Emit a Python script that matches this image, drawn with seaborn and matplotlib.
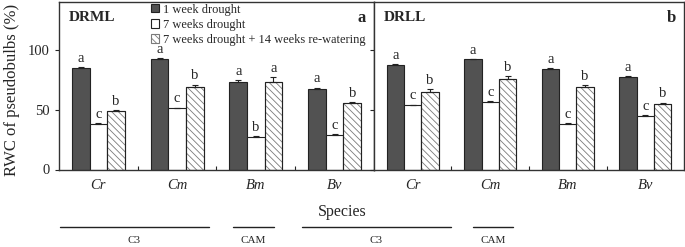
import numpy as np
import pandas as pd
import matplotlib as mpl
mpl.use('Agg')
import matplotlib.pyplot as plt
from matplotlib.patches import Rectangle
import seaborn as sns

species = ['Cr', 'Cm', 'Bm', 'Bv']
treatments = ['1 week drought', '7 weeks drought',
              '7 weeks drought + 14 weeks re-watering']

# DRML (panel a)
drml_1w = [85.0, 92.0, 73.5, 67.5]
drml_7w = [38.0, 51.0, 27.0, 28.5]
drml_rw = [48.5, 69.0, 73.5, 56.0]
drml_1w_err = [0.8, 0.8, 1.0, 1.0]
drml_7w_err = [0.8, 0.8, 0.8, 0.8]
drml_rw_err = [1.5, 2.0, 4.0, 0.4]
drml_letters = [['a', 'a', 'a', 'a'], ['c', 'c', 'b', 'c'], ['b', 'b', 'a', 'b']]

# DRLL (panel b)
drll_1w = [87.5, 92.0, 84.0, 77.0]
drll_7w = [53.5, 56.5, 38.0, 44.5]
drll_rw = [64.5, 75.5, 69.0, 54.5]
drll_1w_err = [0.8, 0.6, 0.8, 1.0]
drll_7w_err = [0.8, 0.8, 0.6, 0.8]
drll_rw_err = [3.0, 2.5, 1.5, 1.5]
drll_letters = [['a', 'a', 'a', 'a'], ['c', 'c', 'c', 'c'], ['b', 'b', 'b', 'b']]

groups = ['C3', 'CAM', 'C3', 'CAM']

sns.set_theme(style='ticks')
plt.rcParams['font.family'] = ['Liberation Serif', 'DejaVu Serif']
plt.rcParams['hatch.linewidth'] = 0.6

DARK = '#525252'
EDGE = '#222222'


def make_df(v1, v2, v3, e1, e2, e3):
    rows = []
    for t, vals, errs in zip(treatments, [v1, v2, v3], [e1, e2, e3]):
        for s, v, e in zip(species, vals, errs):
            rows.append({'species': s, 'treatment': t, 'rwc': v, 'err': e})
    return pd.DataFrame(rows)


def draw_panel(ax, df, letters, tag, panel, show_legend):
    sns.barplot(data=df, x='species', y='rwc', hue='treatment', order=species,
                hue_order=treatments, palette=[DARK, 'white', 'white'],
                edgecolor=EDGE, linewidth=0.8, width=0.67, errorbar=None,
                legend=False, ax=ax)
    bar_conts = list(ax.containers)
    for i, cont in enumerate(bar_conts):
        sub = df[df.treatment == treatments[i]].set_index('species').loc[species]
        for j, bar in enumerate(cont):
            if i == 2:
                # grey hatch lines, dark outline drawn on top
                bar.set_hatch('\\' * 5)
                bar.set_edgecolor('#7a7a7a')
                ax.add_patch(Rectangle(bar.get_xy(), bar.get_width(), bar.get_height(),
                                       fill=False, edgecolor=EDGE, lw=0.8, zorder=bar.get_zorder() + 0.1))
            xc = bar.get_x() + bar.get_width() / 2
            top = bar.get_height()
            err = sub['err'].iloc[j]
            ax.errorbar(xc, top, yerr=[[0], [err]], fmt='none', ecolor=EDGE,
                        elinewidth=0.8, capsize=2.2, capthick=0.8)
            ax.annotate(letters[i][j], (xc, top + err), xytext=(0, 1.5),
                        textcoords='offset points', ha='center', va='bottom',
                        fontsize=10.5)
    ax.set_ylim(0, 140)
    ax.set_xlim(-0.5, 3.5)
    ax.set_xlabel('')
    ax.set_ylabel('')
    ax.set_yticks([0, 50, 100])
    ax.set_xticks(range(4))
    ax.set_xticklabels(species, fontstyle='italic', fontsize=10.5)
    ax.set_xticks([0.5, 1.5, 2.5], minor=True)
    ax.tick_params(axis='x', which='major', length=0, pad=7)
    ax.tick_params(axis='x', which='minor', length=3, direction='in', width=0.8)
    ax.tick_params(axis='y', length=3, width=0.8, direction='out', labelsize=10.5)
    for sp in ax.spines.values():
        sp.set_visible(True)
        sp.set_color('#333333')
        sp.set_linewidth(1.0)
    ax.text(0.03, 0.905, tag, transform=ax.transAxes, fontsize=11,
            fontweight='bold', va='center', ha='left')
    ax.text(0.975, 0.905, panel, transform=ax.transAxes, fontsize=12,
            fontweight='bold', va='center', ha='right')
    if show_legend:
        handles = [cont[0] for cont in bar_conts]
        ax.legend(handles, treatments, loc='upper left',
                  bbox_to_anchor=(0.292, 0.99), frameon=False, fontsize=8.9,
                  handlelength=0.65, handleheight=0.65, handletextpad=0.3,
                  labelspacing=0.25, borderaxespad=0, borderpad=0)


fig = plt.figure(figsize=(6.85, 2.47), dpi=100)
W, H = 685.0, 247.0
bottom = (H - 169.5) / H
height = (169.5 - 2) / H
ax1 = fig.add_axes([59 / W, bottom, (374 - 59) / W, height])
ax2 = fig.add_axes([374 / W, bottom, (684 - 374) / W, height])

draw_panel(ax1, make_df(drml_1w, drml_7w, drml_rw, drml_1w_err, drml_7w_err, drml_rw_err),
           drml_letters, 'DRML', 'a', True)
draw_panel(ax2, make_df(drll_1w, drll_7w, drll_rw, drll_1w_err, drll_7w_err, drll_rw_err),
           drll_letters, 'DRLL', 'b', False)
ax2.set_yticklabels([])

fig.text(12 / W, 1 - 90 / H, 'RWC of pseudobulbs (%)', rotation=90,
         ha='center', va='center', fontsize=12)
fig.text(342 / W, 1 - 212 / H, 'Species', ha='center', va='center', fontsize=11.5)

# photosynthetic type brackets under the species axis
spans = [(60, 209), (233, 274), (302, 451), (473, 513)]
for (x0, x1), g in zip(spans, groups):
    fig.add_artist(plt.Line2D([x0 / W, x1 / W], [1 - 227 / H] * 2,
                              color=EDGE, lw=1.0, transform=fig.transFigure))
    fig.text((x0 + x1) / 2 / W, 1 - 240 / H, g, ha='center', va='center',
             fontsize=8)

fig.savefig('out.png', dpi=100)
